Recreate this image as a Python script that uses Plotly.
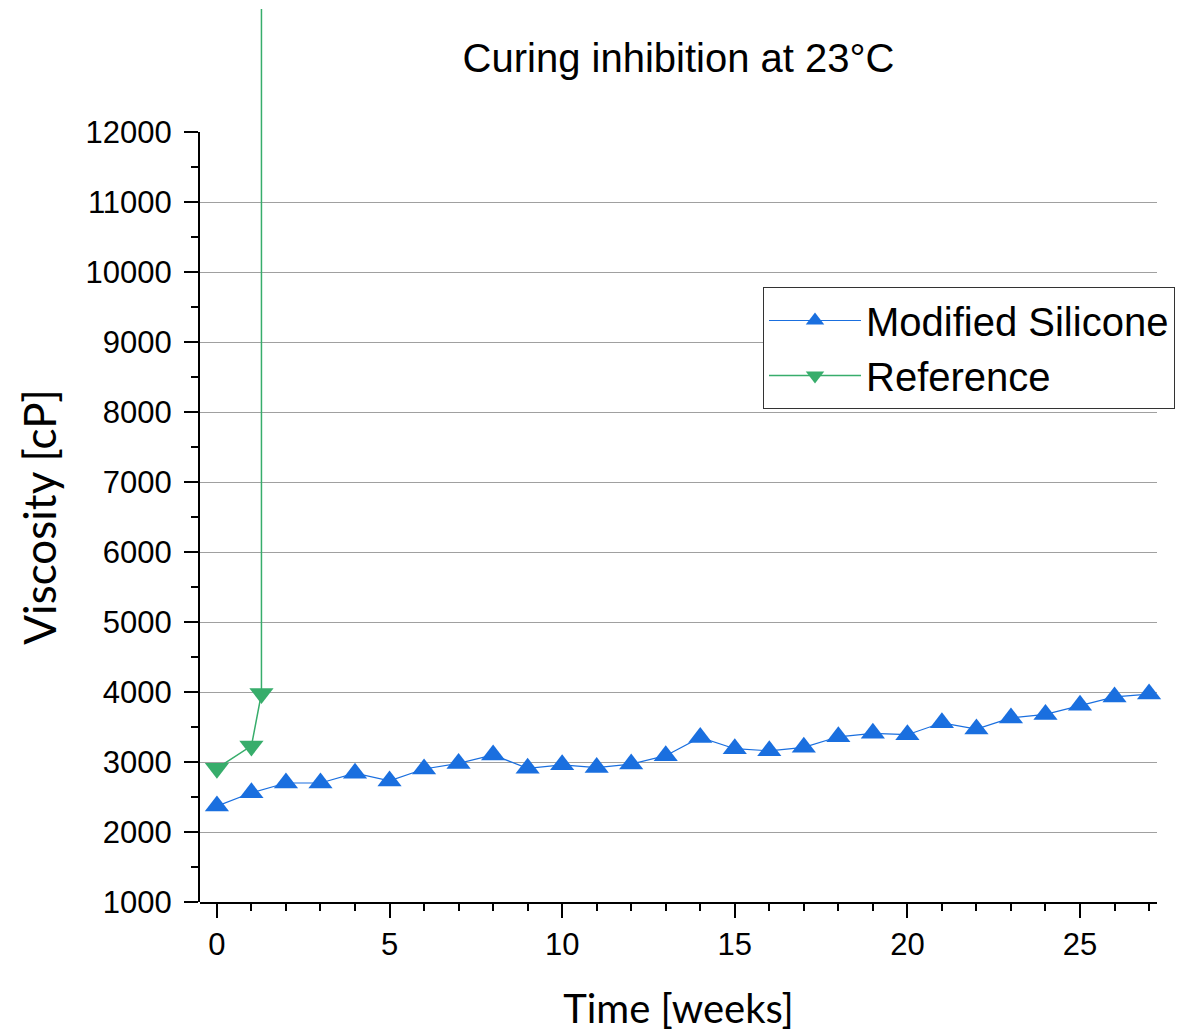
import plotly.graph_objects as go

# ---- data ----
weeks_mod = list(range(0, 28))
visc_mod = [2370, 2560, 2700, 2700, 2840, 2730, 2900, 2980, 3100, 2910,
            2960, 2920, 2970, 3090, 3350, 3190, 3160, 3210, 3360, 3410,
            3390, 3560, 3470, 3630, 3680, 3810, 3930, 3970]
weeks_ref = [0, 1, 1.29, 1.29]
visc_ref = [2910, 3230, 3980, 60000]  # last point cured (off scale)

y_ticks = list(range(1000, 13000, 1000))
grid_vals = list(range(2000, 12000, 1000))
x_ticks = [0, 5, 10, 15, 20, 25]

BLUE = "#1A6FDF"
GREEN = "#37AD6B"

W, H = 1193, 1032
ml, mr, mt, mb = 200, 36, 9, 130
plot_h = H - mt - mb
main_top_px = 132
main_frac = (H - mb - main_top_px) / plot_h
y_lo, y_hi = 1000, 12000
y_full_hi = y_lo + (y_hi - y_lo) / main_frac

fig = go.Figure()
fig.add_trace(go.Scatter(
    x=weeks_mod, y=visc_mod, mode="lines+markers", name="Modified Silicone",
    line=dict(color=BLUE, width=1.2),
    marker=dict(symbol="triangle-up", size=21, color=BLUE),
    xaxis="x", yaxis="y", cliponaxis=False))
fig.add_trace(go.Scatter(
    x=weeks_ref, y=visc_ref, mode="lines+markers", name="Reference",
    line=dict(color=GREEN, width=1.5),
    marker=dict(symbol="triangle-down", size=21, color=GREEN),
    xaxis="x", yaxis="y"))
# empty trace so the labelled axis subplot is created
fig.add_trace(go.Scatter(x=[], y=[], xaxis="x", yaxis="y2", showlegend=False,
                         hoverinfo="skip"))

tickfont = dict(family="Liberation Sans, Arial, sans-serif", size=31, color="black")

fig.update_layout(
    width=W, height=H,
    margin=dict(l=ml, r=mr, t=mt, b=mb),
    paper_bgcolor="white", plot_bgcolor="rgba(0,0,0,0)",
    title=dict(text="Curing inhibition at 23°C", x=0.5, xref="paper", xanchor="center",
               y=1 - 58 / H, yref="container", yanchor="middle",
               font=dict(family="Liberation Sans, Arial, sans-serif", size=40, color="black")),
    xaxis=dict(range=[-0.49, 27.23], tickvals=x_ticks, showgrid=False, zeroline=False,
               anchor="y", automargin=False,
               showline=True, linecolor="black", linewidth=2,
               ticks="outside", ticklen=14, tickwidth=2, tickcolor="black",
               minor=dict(dtick=1, tick0=0, ticks="outside", ticklen=7, tickwidth=2,
                          tickcolor="black", showgrid=False),
               tickfont=tickfont,
               title=dict(text="Time [weeks]",
                          font=dict(family="Lato, sans-serif", size=40, color="black"),
                          standoff=44)),
    # full-height axis: holds the data and the grid (lets the cured line run to the top)
    yaxis=dict(range=[y_lo, y_full_hi], domain=[0, 1], tickvals=grid_vals,
               showgrid=True, gridcolor="#A0A0A0", gridwidth=1,
               showticklabels=False, ticks="", showline=False, zeroline=False,
               automargin=False),
    # labelled axis: 1000-12000
    yaxis2=dict(range=[y_lo, y_hi], domain=[0, main_frac], anchor="x", tickvals=y_ticks,
                tickformat="d", showgrid=False, zeroline=False, automargin=False,
                showline=True, linecolor="black", linewidth=2,
                ticks="outside", ticklen=14, tickwidth=2, tickcolor="black",
                ticklabelstandoff=6,
                minor=dict(dtick=500, tick0=0, ticks="outside", ticklen=7, tickwidth=2,
                           tickcolor="black", showgrid=False),
                tickfont=tickfont,
                title=dict(text="Viscosity [cP]",
                           font=dict(family="Lato, sans-serif", size=44, color="black"),
                           standoff=15)),
    legend=dict(x=(763 - ml) / (W - ml - mr), y=(H - mb - 287) / plot_h,
                xanchor="left", yanchor="top",
                bgcolor="white", bordercolor="#333333", borderwidth=1,
                font=dict(family="Liberation Sans, Arial, sans-serif", size=40, color="black"),
                itemwidth=92, tracegroupgap=0),
    showlegend=True,
)

fig.write_html("out.html", config={"displayModeBar": False},
               post_script="document.body.style.margin='0';document.body.style.overflow='hidden';")
